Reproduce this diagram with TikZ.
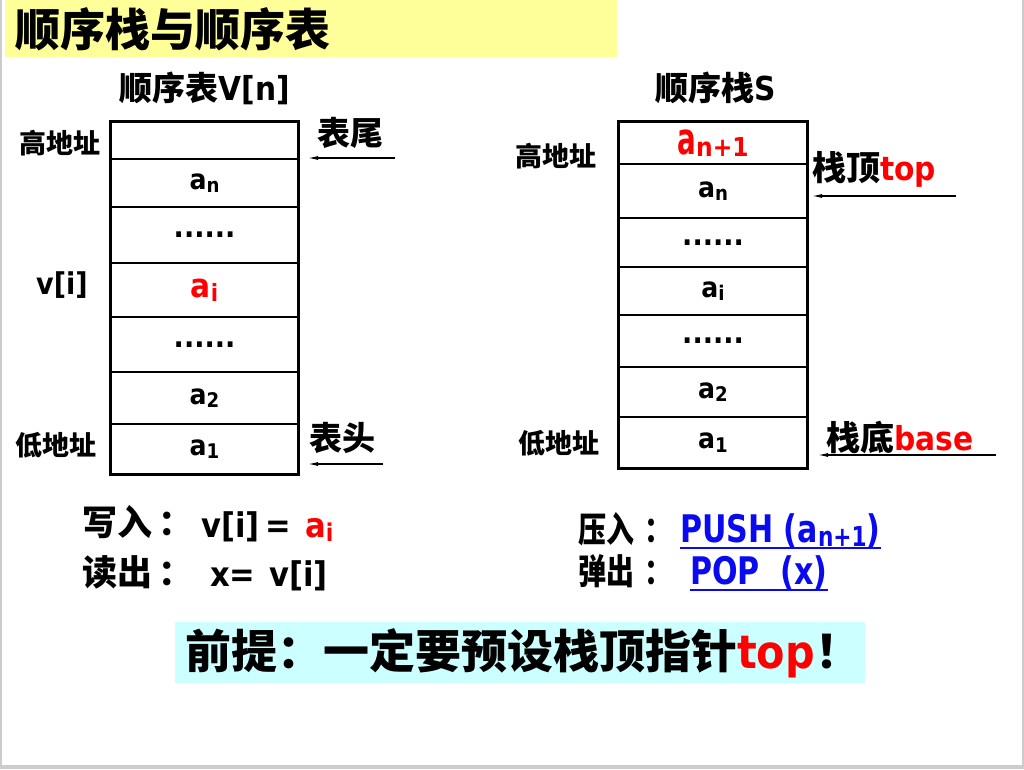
\documentclass[tikz,border=0pt]{standalone}
\usepackage{fontspec}
\setmainfont{DejaVu Sans Condensed}
\newfontfamily\lnn{DejaVu Sans Condensed}[FakeStretch=0.88]
\newfontfamily\lnx{DejaVu Sans Condensed}[FakeStretch=0.7]
\newfontfamily\zh{Noto Sans CJK SC}
\newfontfamily\zhn{Noto Sans CJK SC}[FakeStretch=0.8]
\usetikzlibrary{arrows.meta}
\definecolor{titlebg}{HTML}{FFFF99}
\definecolor{notebg}{HTML}{CCFFFF}
\definecolor{linkblue}{HTML}{0A0AF0}
\newcommand{\sbs}[1]{\raisebox{-0.12em}{\scalebox{0.72}{#1}}}
\newcommand{\fs}[1]{\fontsize{#1}{#1}\selectfont\bfseries}

\begin{document}
\begin{tikzpicture}[x=1pt,y=-1pt,
	cell_node/.style={draw,line width=1.2pt,inner sep=0pt,font=\fs{28}},
	side_node/.style={inner sep=0pt,font=\fs{27}\zh},
	head_node/.style={inner sep=0pt,font=\fs{33}},
	tag_node/.style={inner sep=0pt,anchor=west,font=\fs{33}},
	op_node/.style={inner sep=0pt,anchor=base west,font=\fs{34}},
	zh_op/.style={op_node,font=\fs{35}\zh},
	ptr/.style={-{Latex[length=10pt,width=4pt]},line width=1.1pt},
	uline/.style={linkblue,line width=2.4pt}]

	% slide
	\fill[gray!40] (0,0) rectangle (1024,769);
	\fill[white] (2,0) rectangle (1022,765);
	\fill[titlebg] (5,0) rectangle (617,57);
	\node[inner sep=0pt,anchor=west,font=\fs{45}\zh] (title) at (15,29) {顺序栈与顺序表};

	% sequential list
	\node[head_node] (vhead) at (205,88) {{\zh 顺序表}V[n]};
	\foreach \n/\t/\b/\s in {l1/122/159/{},
		l2/159/207/{a\sbs{n}},
		l3/207/263/{\fs{30}......},
		l4/263/317/{\textcolor{red}{\fs{33}a\sbs{i}}},
		l5/317/372/{\fs{30}......},
		l6/372/424/{a\sbs{2}},
		l7/424/474/{a\sbs{1}}}
		\node[cell_node,minimum width=187pt,minimum height={(\b-\t)*1pt}] (\n) at (204.5,{(\t+\b)/2}) {\s};
	\draw[line width=2pt] (l1.north west) rectangle (l7.south east);

	\node[side_node] (lhigh) at (60,143) {高地址};
	\node[head_node,font=\fs{30}] (vi) at (62,285) {v[i]};
	\node[side_node] (llow) at (56,445) {低地址};

	\node[tag_node,font=\fs{33}\zh] (tail) at (317,133) {表尾};
	\node[tag_node,font=\fs{33}\zh] (head) at (309,438) {表头};
	\coordinate (tailfrom) at (395,158);
	\coordinate (tailto) at (308,158);
	\coordinate (headfrom) at (383,464);
	\coordinate (headto) at (308,464);
	\draw[ptr] (tailfrom) -- (tailto);
	\draw[ptr] (headfrom) -- (headto);

	% sequential stack
	\node[head_node] (shead) at (716,88) {{\zh 顺序栈}S};
	\foreach \n/\t/\b/\s in {r1/122/164/{\color{red}{\fs{44}\lnx a}\raisebox{-0.05em}{\fs{26}n+1}},
		r2/164/218/{a\sbs{n}},
		r3/218/267/{\fs{30}......},
		r4/267/315/{a\sbs{i}},
		r5/315/367/{\fs{30}......},
		r6/367/417/{a\sbs{2}},
		r7/417/468/{a\sbs{1}}}
		\node[cell_node,minimum width=188pt,minimum height={(\b-\t)*1pt}] (\n) at (713,{(\t+\b)/2}) {\s};
	\draw[line width=2pt] (r1.north west) rectangle (r7.south east);

	\node[side_node] (rhigh) at (556,156) {高地址};
	\node[side_node] (rlow) at (559,443) {低地址};

	\node[tag_node] (top) at (812,169) {{\fs{34}\zh 栈顶}\textcolor{red}{top}};
	\node[tag_node] (base) at (826,437) {{\fs{34}\zh 栈底}\textcolor{red}{base}};
	\coordinate (topfrom) at (956,196);
	\coordinate (topto) at (812,196);
	\coordinate (basefrom) at (996,455);
	\coordinate (baseto) at (818,455);
	\draw[ptr] (topfrom) -- (topto);
	\draw[ptr] (basefrom) -- (baseto);

	% operations
	\node[zh_op] (wr) at (82,535) {写入\hspace{6pt}：};
	\node[op_node] (wrexpr) at (201,537) {v[i]\hspace{6pt}=\hspace{14pt}\textcolor{red}{a\sbs{i}}};
	\node[zh_op] (rd) at (82,585) {读出\hspace{6pt}：};
	\node[op_node] (rdexpr) at (210,586) {x=\hspace{14pt}v[i]};

	\node[zh_op,font=\fs{35}\zhn] (pushlbl) at (578,542) {压入\hspace{10pt}：};
	\node[op_node,font=\fs{38}\lnn,text=linkblue] (push) at (680,542) {PUSH (a\sbs{n+1})};
	\node[zh_op,font=\fs{35}\zhn] (poplbl) at (578,584) {弹出\hspace{10pt}：};
	\node[op_node,font=\fs{38}\lnn,text=linkblue] (pop) at (690,584) {POP\ \ (x)};
	\draw[uline] ([yshift=-1pt]push.south west) -- ([yshift=-1pt]push.south east);
	\draw[uline] ([yshift=-1pt]pop.south west) -- ([yshift=-1pt]pop.south east);

	% note
	\fill[notebg] (175,622) rectangle (865,683);
	\node[inner sep=0pt,anchor=west,font=\fs{46}\zh] (note) at (185,653) {前提：一定要预设栈顶指针{\rmfamily\color{red}top}！};
\end{tikzpicture}
\end{document}
